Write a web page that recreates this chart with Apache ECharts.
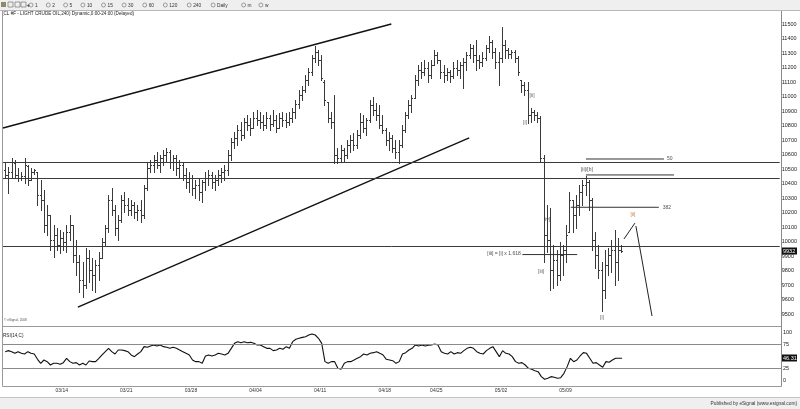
<!DOCTYPE html>
<html><head><meta charset="utf-8">
<script src="https://cdn.jsdelivr.net/npm/echarts@6/dist/echarts.min.js"></script>
<style>html,body{margin:0;padding:0;background:#fff}#c{width:800px;height:409px}</style>
</head><body><div id="c"></div>
<script>
// ---- data: 240-min CL bars (prices x100) ----
const barOpen = [10493,10459,10479,10541,10459,10438,10452,10521,10424,10479,
 10479,10321,10286,10114,10183,10010,10045,9976,10024,9996,
 10065,10114,9907,9858,9734,9700,9886,9803,9769,9838,
 9886,9996,10093,10286,10217,10093,10148,10286,10252,10217,
 10252,10203,10217,10183,10369,10507,10527,10562,10527,10576,
 10596,10617,10548,10576,10507,10527,10459,10410,10438,10369,
 10390,10341,10410,10438,10459,10410,10424,10459,10479,10493,
 10596,10686,10714,10769,10734,10824,10803,10783,10852,10838,
 10824,10803,10852,10810,10838,10783,10852,10838,10824,10852,
 10893,10948,11010,11045,11114,11169,11265,11307,11252,11100,
 10962,10852,10824,10596,10576,10631,10596,10665,10700,10665,
 10734,10824,10783,10838,10941,10907,10872,10803,10769,10700,
 10714,10645,10617,10665,10769,10872,10941,10990,11114,11183,
 11169,11196,11148,11217,11286,11252,11169,11148,11169,11141,
 11196,11183,11217,11238,11286,11334,11286,11252,11238,11265,
 11334,11376,11307,11238,11265,11355,11321,11293,11307,11265,
 11114,11079,11045,10872,10893,10872,10852,10576,10045,10010,
 9803,9872,9769,9907,9941,10065,10286,10183,10252,10341,
 10390,10410,10286,10010,9907,9803,9665,9838,9907,9941,
 9858,9941];
const barHigh = [10541,10514,10576,10562,10507,10479,10576,10527,10507,10500,
 10479,10424,10355,10252,10183,10114,10093,10080,10065,10114,
 10183,10114,10010,9907,9858,9955,9941,9886,9872,9927,
 10024,10114,10321,10369,10252,10183,10321,10341,10300,10286,
 10272,10252,10286,10390,10541,10562,10596,10617,10596,10631,
 10645,10631,10596,10596,10562,10548,10507,10479,10459,10424,
 10438,10424,10479,10493,10479,10459,10493,10507,10527,10631,
 10714,10755,10803,10824,10852,10872,10852,10893,10907,10893,
 10872,10893,10872,10907,10872,10886,10893,10886,10893,10921,
 10976,11045,11072,11148,11196,11286,11348,11321,11286,11114,
 10962,10893,11010,10645,10665,10645,10700,10734,10748,10769,
 10886,10872,10852,10976,10996,10955,10941,10872,10783,10755,
 10734,10700,10700,10803,10893,10976,11010,11148,11217,11238,
 11252,11238,11252,11321,11307,11252,11217,11196,11183,11238,
 11252,11238,11265,11307,11362,11355,11390,11286,11307,11355,
 11417,11390,11334,11307,11479,11390,11334,11321,11321,11279,
 11114,11100,11100,10921,10907,10893,10865,10596,10252,10231,
 9976,9941,9996,9976,10114,10341,10286,10321,10390,10424,
 10452,10424,10300,10065,9976,9858,9941,9955,10010,10080,
 10024,9976];
const barLow = [10438,10334,10445,10438,10417,10424,10403,10390,10424,10465,
 10252,10217,10065,10045,9941,9893,9941,9921,9941,9927,
 10010,9858,9769,9652,9617,9679,9721,9665,9652,9734,
 9886,9976,10065,10183,10045,10010,10134,10203,10183,10183,
 10162,10148,10134,10162,10355,10479,10479,10507,10479,10527,
 10548,10507,10493,10459,10438,10424,10369,10341,10321,10300,
 10286,10272,10355,10390,10369,10355,10390,10410,10424,10459,
 10562,10645,10665,10700,10714,10769,10734,10783,10803,10783,
 10769,10783,10769,10796,10755,10783,10796,10790,10803,10824,
 10852,10921,10976,11031,11079,11148,11238,11217,11114,10941,
 10824,10783,10541,10541,10548,10548,10576,10617,10631,10645,
 10714,10755,10734,10824,10872,10838,10783,10748,10665,10631,
 10617,10576,10541,10652,10755,10852,10893,10990,11079,11128,
 11148,11100,11128,11217,11231,11128,11100,11114,11100,11128,
 11148,11128,11059,11183,11265,11238,11183,11196,11210,11252,
 11307,11265,11196,11079,11238,11265,11265,11265,11238,11148,
 11031,11010,10817,10824,10838,10824,10548,9858,9927,9665,
 9679,9700,9734,9769,9858,10065,10065,10093,10183,10252,
 10321,10217,9941,9817,9748,9521,9610,9769,9790,9700,
 9734,9927];
const barClose = [10459,10479,10548,10459,10438,10452,10527,10424,10479,10493,
 10321,10286,10114,10183,10010,10045,9976,10024,9996,10065,
 10114,9907,9858,9734,9700,9886,9803,9769,9838,9886,
 9996,10093,10286,10217,10093,10148,10286,10252,10217,10252,
 10203,10217,10183,10369,10507,10527,10562,10527,10576,10596,
 10617,10548,10576,10507,10527,10459,10410,10438,10369,10390,
 10341,10410,10438,10459,10410,10424,10459,10479,10493,10596,
 10686,10714,10769,10734,10824,10803,10783,10852,10838,10824,
 10803,10852,10810,10838,10783,10852,10838,10824,10852,10893,
 10948,11010,11045,11114,11169,11265,11307,11252,11128,10976,
 10852,10824,10596,10576,10631,10596,10665,10700,10665,10734,
 10824,10783,10838,10941,10907,10872,10803,10769,10700,10714,
 10645,10617,10665,10769,10872,10941,10990,11114,11183,11169,
 11196,11148,11217,11286,11252,11169,11148,11169,11141,11196,
 11183,11217,11238,11286,11334,11286,11252,11238,11265,11334,
 11376,11307,11238,11265,11355,11321,11293,11307,11265,11169,
 11079,11045,10872,10893,10872,10852,10576,10045,10010,9803,
 9872,9769,9907,9941,10045,10286,10183,10252,10341,10390,
 10410,10286,10010,9907,9803,9665,9838,9907,9941,9858,
 9941,9932];
const rsiValues = [60.1,62.2,60.1,56.6,60.1,56.6,55.2,60.1,56.6,55.2,
 44.1,35.8,42.7,39.3,32.3,35.8,35.8,33.7,37.2,46.2,
 39.3,35.8,37.2,32.3,35.8,32.3,40.6,39.3,39.3,46.2,
 53.2,60.1,67.0,60.1,55.2,63.6,63.6,62.2,60.1,53.2,
 49.7,55.2,60.1,70.5,69.1,71.9,74.0,71.9,74.0,70.5,
 69.1,67.0,69.1,67.0,63.6,60.1,56.6,53.2,42.7,39.3,
 39.3,35.8,51.1,53.2,51.1,53.2,56.6,55.2,53.2,56.6,
 67.0,77.4,80.9,78.8,80.9,78.8,79.5,77.4,74.0,74.0,
 70.5,67.0,67.0,62.2,63.6,67.0,65.0,70.5,67.0,80.9,
 85.8,87.9,89.9,91.3,94.8,96.9,94.8,87.9,77.4,39.3,
 35.8,39.3,39.3,25.4,23.3,35.8,39.3,39.3,42.7,46.2,
 49.7,55.2,53.2,56.6,58.0,60.1,56.6,53.2,44.1,42.7,
 41.3,35.8,39.3,55.2,58.0,63.6,67.0,74.0,71.9,74.0,
 71.9,73.3,74.0,76.0,74.0,60.1,56.6,55.2,60.1,55.2,
 58.0,56.6,62.2,67.0,69.1,67.0,60.1,56.6,55.2,62.2,
 67.0,70.5,60.1,49.7,62.2,56.6,55.2,49.7,39.3,35.8,
 37.2,32.3,25.4,23.3,20.5,18.4,8.0,2.5,4.6,8.0,
 6.6,4.6,5.9,15.0,28.9,46.2,39.3,42.7,51.1,58.0,
 56.6,46.2,35.8,37.2,32.3,27.5,39.3,37.9,42.7,46.2,
 46.2,46.31];
const dateLabels = ['03/14','03/21','03/28','04/04','04/11','04/18','04/25','05/02','05/09'];
const dateLabelBars = [17.5,37.5,57.5,77.5,97.5,117.5,133.5,153.5,173.5];
const priceTicks = [9500,9600,9700,9800,9900,10000,10100,10200,10300,10400,10500,10600,10700,10800,10900,11000,11100,11200,11300,11400,11500];
const rsiTicks = [0,25,75,100];
const rsiLevels = [75,25];
const levelLines = [10545,10438,9970];
// [ [barX, price], [barX, price] ]
const trendLines = [[[-0.68,10783],[119.75,11500]], [[22.55,9548],[143.9,10714]]];
const fibLines = [[[180.1,10569],[204.3,10569]], [[180.1,10459],[207.4,10459]], [[175.4,10236],[202.7,10236]], [[160.4,9910],[177.4,9910]]];
const projectionLines = [[[191.9,10017],[195.3,10127]], [[195.6,10107],[200.6,9486]]];
// [barX, price, text, kind]
const waveLabels = [
  [163.4,11003,'[ii]','w'],[161.2,10817,'[i]','w'],[168.0,10148,'[iv]','w'],[166.2,9790,'[iii]','w'],
  [185.1,9472,'[i]','w'],[194.7,10183,'[ii]','o'],[180.4,10493,'[ii]/[b]','k'],
  [154.7,9914,'[iii] = [i] x 1.618','k'],[206.1,10569,'50','k'],[205.2,10236,'382','k']
];
const toolbarItems = ['1','2','5','10','15','30','60','120','240','Daily','m','w'];

const xMin = -0.68, xMax = 240.2;
const FONT = 'Liberation Sans, Arial, sans-serif';
const chart = echarts.init(document.getElementById('c'), null, {renderer:'canvas', width:800, height:409});

function ohlcItem(params, api){
  const i = api.value(0);
  const o = api.coord([i, api.value(1)]);
  const h = api.coord([i, api.value(2)]);
  const l = api.coord([i, api.value(3)]);
  const c = api.coord([i, api.value(4)]);
  const x = Math.round(h[0]) + 0.5;
  const st = {stroke:'#3a3a3a', lineWidth:1};
  return {type:'group', children:[
    {type:'line', shape:{x1:x, y1:Math.round(h[1]), x2:x, y2:Math.round(l[1])+1}, style:st},
    {type:'line', shape:{x1:x-1.5, y1:Math.round(o[1])+0.5, x2:x, y2:Math.round(o[1])+0.5}, style:st},
    {type:'line', shape:{x1:x, y1:Math.round(c[1])+0.5, x2:x+1.5, y2:Math.round(c[1])+0.5}, style:st}
  ]};
}

const segSeries = (segs, color, width) => segs.map(s => ({
  type:'line', xAxisIndex:0, yAxisIndex:0, data:s, symbol:'none', silent:true,
  lineStyle:{color:color, width:width}, animation:false, z:3
}));

const labelColors = {w:'#3c3228', o:'#b0601a', k:'#1a1a1a'};

const option = {
  animation:false,
  backgroundColor:'#ffffff',
  grid:[
    {left:3, width:778, top:9.5, height:319},
    {left:3, width:778, top:332.5, height:48}
  ],
  xAxis:[
    {type:'value', gridIndex:0, min:xMin, max:xMax, show:false},
    {type:'value', gridIndex:1, min:xMin, max:xMax,
     axisLine:{show:false}, axisTick:{show:false}, splitLine:{show:false},
     axisLabel:{customValues:dateLabelBars, margin:8, fontSize:5, color:'#333', fontFamily:FONT,
       formatter:v => { const k = dateLabelBars.indexOf(v); return k>=0 ? dateLabels[k] : ''; }}}
  ],
  yAxis:[
    {type:'value', gridIndex:0, position:'right', min:9400, max:11600, interval:100,
     axisLine:{show:false}, axisTick:{show:false}, splitLine:{show:false},
     axisLabel:{customValues:priceTicks, margin:2, fontSize:5.5, color:'#222', fontFamily:FONT,
       formatter:v => String(v)}},
    {type:'value', gridIndex:1, position:'right', min:0, max:100,
     axisLine:{show:false}, axisTick:{show:false}, splitLine:{show:false},
     axisLabel:{customValues:rsiTicks, margin:2, fontSize:5.5, color:'#222', fontFamily:FONT,
       formatter:v => String(v)}}
  ],
  series:[
    {type:'custom', xAxisIndex:0, yAxisIndex:0, renderItem:ohlcItem, silent:true,
     encode:{x:0, y:[1,2,3,4]},
     data: barOpen.map((o,i)=>[i, o, barHigh[i], barLow[i], barClose[i]]),
     markLine:{silent:true, symbol:['none','none'], label:{show:false}, animation:false,
       lineStyle:{color:'#3a3a3a', width:1, type:'solid'},
       data: levelLines.map(v=>({yAxis:v}))}, z:2},
    {type:'line', xAxisIndex:1, yAxisIndex:1, symbol:'none', silent:true,
     data: rsiValues.map((v,i)=>[i,v]), lineStyle:{color:'#111', width:1.1},
     markLine:{silent:true, symbol:['none','none'], label:{show:false}, animation:false,
       lineStyle:{color:'#8a8a8a', width:1, type:'solid'},
       data: rsiLevels.map(v=>({yAxis:v}))}},
    ...segSeries(trendLines, '#111', 1.4),
    ...segSeries(fibLines, '#333', 1),
    ...segSeries(projectionLines, '#222', 1),
    {type:'scatter', xAxisIndex:0, yAxisIndex:0, symbolSize:2, itemStyle:{color:'rgba(0,0,0,0)'}, silent:true,
     labelLayout:{hideOverlap:false},
     data: waveLabels.map(a=>({value:[a[0],a[1]],
       label:{show:true, position:'inside', formatter:a[2], color:labelColors[a[3]], fontSize:5, fontFamily:FONT}})),
     z:5}
  ]
};
chart.setOption(option);

const lastClose = barClose[barClose.length-1];
const lastRsi = rsiValues[rsiValues.length-1];
const pY = chart.convertToPixel({yAxisIndex:0}, lastClose);
const rY = chart.convertToPixel({yAxisIndex:1}, lastRsi);
const line = (x1,y1,x2,y2,c) => ({type:'line', shape:{x1,y1,x2,y2}, style:{stroke:c, lineWidth:1}, silent:true});
const txt = (x,y,t,o) => ({type:'text', x, y, silent:true, style:Object.assign({text:t, fontSize:5, fontFamily:FONT, fill:'#222', verticalAlign:'middle'}, o||{})});
const tag = (y, t) => ({type:'group', silent:true, children:[
  {type:'rect', shape:{x:782, y:Math.round(y)-3.5, width:15, height:7}, style:{fill:'#111'}},
  {type:'text', x:783, y:Math.round(y), style:{text:t, fontSize:5.5, fontFamily:FONT, fill:'#fff', verticalAlign:'middle'}}
]});
const tb = [];
let tx = 29;
toolbarItems.forEach(t => {
  tb.push({type:'circle', shape:{cx:tx+2, cy:5, r:2}, style:{fill:'none', stroke:'#666', lineWidth:0.6}, silent:true});
  tb.push(txt(tx+6, 5.3, t, {fontSize:4.8, fill:'#333'}));
  tx += 14 + t.length*3.3;
});
chart.setOption({graphic:[
  {type:'rect', shape:{x:0, y:0, width:800, height:10.5}, style:{fill:'#efefef'}, silent:true},
  line(0,10.5,800,10.5,'#b8b8b8'),
  {type:'rect', shape:{x:1, y:2, width:5, height:5}, style:{fill:'#8c8a6a'}, silent:true},
  {type:'rect', shape:{x:8, y:2, width:5, height:5}, style:{fill:'none', stroke:'#777', lineWidth:0.7}, silent:true},
  {type:'rect', shape:{x:15, y:2, width:5, height:5}, style:{fill:'none', stroke:'#777', lineWidth:0.7}, silent:true},
  {type:'rect', shape:{x:21, y:2, width:5, height:5}, style:{fill:'none', stroke:'#777', lineWidth:0.7}, silent:true},
  txt(26.5, 5, '+', {fontSize:6, fontWeight:'bold'}),
  ...tb,
  txt(2, 14, '(CL #F - LIGHT CRUDE OIL,240) Dynamic,0:00-24:00 (Delayed)', {fontSize:4.6}),
  line(2.5,11,2.5,386.5,'#9a9a9a'),
  line(781.5,11,781.5,386.5,'#8a8a8a'),
  line(2.5,326.5,781.5,326.5,'#9a9a9a'),
  line(2.5,386.5,781.5,386.5,'#9a9a9a'),
  txt(4, 320, '© eSignal, 2008', {fontSize:3.2, fill:'#555'}),
  txt(3, 336, 'RSI(14,C)', {fontSize:4.6}),
  {type:'rect', shape:{x:0, y:397, width:800, height:12}, style:{fill:'#efefef'}, silent:true},
  line(0,397.5,800,397.5,'#c4c4c4'),
  txt(797, 403.5, 'Published by eSignal (www.esignal.com)', {fontSize:4.8, align:'right', fill:'#333'}),
  tag(pY, String(lastClose)),
  tag(rY, lastRsi.toFixed(2))
]});
</script></body></html>
